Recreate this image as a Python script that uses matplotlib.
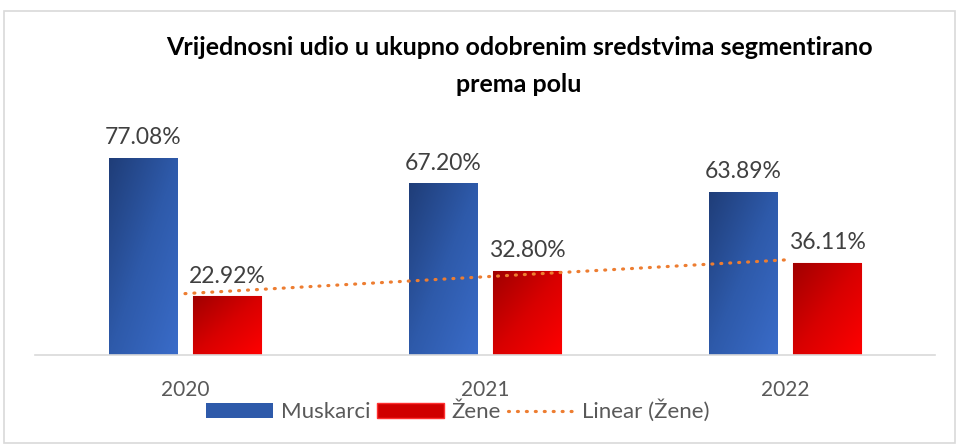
import numpy as np
import matplotlib.pyplot as plt
from matplotlib.colors import LinearSegmentedColormap
from matplotlib.patches import Rectangle
from matplotlib.lines import Line2D

years = ["2020", "2021", "2022"]
muskarci = [77.08, 67.20, 63.89]
zene = [22.92, 32.80, 36.11]

plt.rcParams['font.family'] = ['Lato', 'DejaVu Sans']

fig = plt.figure(figsize=(9.59, 4.44), dpi=100)
ax = fig.add_axes([35 / 959, 89 / 444, 900 / 959, 230 / 444])

# okvir oko cijelog grafikona
fig.patches.append(Rectangle((4 / 959, 0.002), 951 / 959, 0.974, transform=fig.transFigure,
                             fill=False, edgecolor='#d9d9d9', linewidth=1.2))

x = np.arange(len(years))
width = 0.227
off = 0.14

blue_cmap = LinearSegmentedColormap.from_list('b', ['#1f3d78', '#2e5aaa', '#3a6cc9'])
red_cmap = LinearSegmentedColormap.from_list('r', ['#a00000', '#d80000', '#ff0000'])

bars_m = ax.bar(x - off, muskarci, width, color='#2e5aaa', label='Muskarci')
bars_z = ax.bar(x + off, zene, width, color='#e00000', edgecolor='#ff3030', linewidth=0.8,
                label='Žene')

# gradijent na stupcima
grad = np.add.outer(np.linspace(0, 1, 100), np.linspace(0, 1, 100)) / 2
for bars, cmap in [(bars_m, blue_cmap), (bars_z, red_cmap)]:
    for rect in bars:
        x0, y0 = rect.get_x(), rect.get_y()
        w, h = rect.get_width(), rect.get_height()
        im = ax.imshow(grad, cmap=cmap, extent=(x0, x0 + w, y0, y0 + h), origin='upper',
                       aspect='auto', zorder=rect.get_zorder() + 0.1)
        im.set_clip_path(rect)

# linearni trend za Žene
dots = (0, (0.3, 2.5))
coef = np.polyfit(x, zene, 1)
ax.plot(x, np.polyval(coef, x), linestyle=dots, dash_capstyle='round',
        color='#ed7d31', linewidth=2.3, zorder=5)

# etikete na stupcima
for bars in [bars_m, bars_z]:
    for rect in bars:
        h = rect.get_height()
        ax.annotate('{:.2f}%'.format(h), xy=(rect.get_x() + rect.get_width() / 2, h),
                    xytext=(0, 7), textcoords='offset points', ha='center', va='bottom',
                    fontsize=16.5, color='#404040')

ax.set_xlim(-0.5, 2.5)
ax.set_ylim(0, 90)
ax.set_xticks(x)
ax.set_xticklabels(years, fontsize=15, color='#595959')
ax.tick_params(axis='x', length=0, pad=18)
ax.set_yticks([])
for s in ['top', 'right', 'left']:
    ax.spines[s].set_visible(False)
ax.spines['bottom'].set_color('#d9d9d9')
ax.spines['bottom'].set_linewidth(1.2)

fig.text(519 / 959, 1 - 66 / 444, 'Vrijednosni udio u ukupno odobrenim sredstvima segmentirano\nprema polu',
         ha='center', va='center', fontsize=18, fontweight='bold', linespacing=1.7,
         transform=fig.transFigure)

handles = [Rectangle((0, 0), 1, 1, facecolor='#2e5aaa'),
           Rectangle((0, 0), 1, 1, facecolor='#d00000', edgecolor='#ff3030'),
           Line2D([0], [0], linestyle=dots, dash_capstyle='round',
                  color='#ed7d31', linewidth=2.3)]
fig.legend(handles, ['Muskarci', 'Žene', 'Linear (Žene)'], loc='center',
           bbox_to_anchor=(458 / 959, 1 - 411 / 444), ncol=3, frameon=False,
           fontsize=16, labelcolor='#595959', handlelength=3.0, handleheight=0.6,
           columnspacing=0.3, handletextpad=0.35)

fig.savefig('out.png', dpi=100)
